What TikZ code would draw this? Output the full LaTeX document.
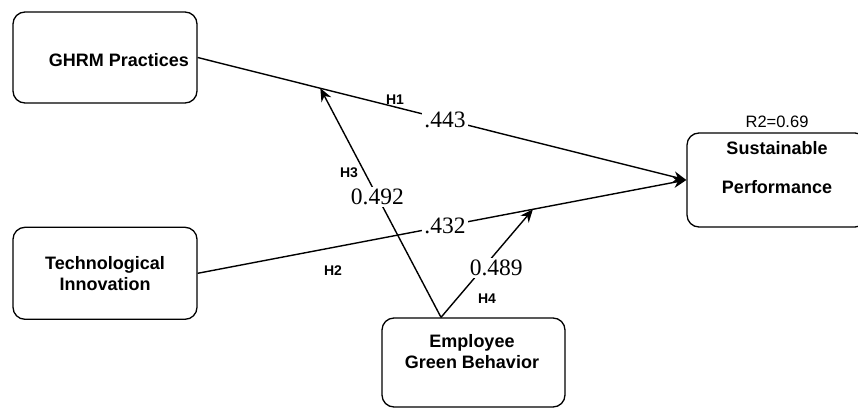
\documentclass[tikz,border=0pt]{standalone}
\usepackage{fontspec}
\setmainfont{Liberation Sans}
\newfontfamily\coeffont{Liberation Serif}
\usetikzlibrary{arrows.meta, positioning, calc}

\begin{document}
\begin{tikzpicture}[
    x=1pt, y=-1pt,
    >={Stealth[length=13pt, width=11pt]},
    boxtext/.style={align=center, font=\fontsize{18}{21}\selectfont\bfseries},
    box/.style={boxtext, draw, line width=1.3pt, rounded corners=12pt},
    hyp/.style={font=\fontsize{14}{16}\selectfont\bfseries},
    coef/.style={fill=white, inner sep=2pt, font=\coeffont\fontsize{23.5}{26}\selectfont},
    arrow/.style={->, line width=1.4pt},
  ]

  \path[use as bounding box, clip] (0,0) rectangle (858,409);

  % --- Constructs ---
  \node[box, minimum width=184pt, minimum height=91pt] (ghrm) at (105,57.5) {};
  \node[boxtext] at ([xshift=14pt, yshift=-2.5pt]ghrm.center) {GHRM Practices};

  \node[box, minimum width=184pt, minimum height=92pt, below=123pt of ghrm] (tech_inno) {Technological\\Innovation};

  \node[box, minimum width=183pt, minimum height=89pt] (emp_green) at (473.5,362.5) {};
  \node[boxtext] at (472,351.5) {Employee\\Green Behavior};

  \node[box, minimum width=180pt, minimum height=94pt] (sust_perf) at (777,180) {};
  \node[boxtext, anchor=north] at ([yshift=-5.5pt]sust_perf.north) {Sustainable\\[18pt]Performance};
  \node[font=\fontsize{16.5}{19}\selectfont, above=1pt of sust_perf] (r_sq) {R2=0.69};

  % --- Direct paths ---
  \draw[arrow] (ghrm.east) -- (sust_perf.west) node[coef, pos=0.506] (c_h1) {.443};
  \draw[arrow] (tech_inno.east) -- (sust_perf.west) node[coef, pos=0.506] (c_h2) {.432};

  % --- Moderating paths ---
  \coordinate (egb_top) at ([xshift=-32.5pt]emp_green.north);
  \coordinate (h3_end) at ($(ghrm.east)!0.251!(sust_perf.west)$);
  \coordinate (h4_end) at ($(tech_inno.east)!0.686!(sust_perf.west)$);

  \draw[arrow] (egb_top) -- (h3_end) node[coef, pos=0.527] (c_h3) {0.492};
  \draw[arrow] (egb_top) -- (h4_end) node[coef, pos=0.46, xshift=13pt] (c_h4) {0.489};

  % --- Hypothesis labels ---
  \node[hyp] (h1) at (395,100) {H1};
  \node[hyp] (h2) at (333,271) {H2};
  \node[hyp] (h3) at (349,173) {H3};
  \node[hyp] (h4) at (487,299) {H4};

\end{tikzpicture}
\end{document}
